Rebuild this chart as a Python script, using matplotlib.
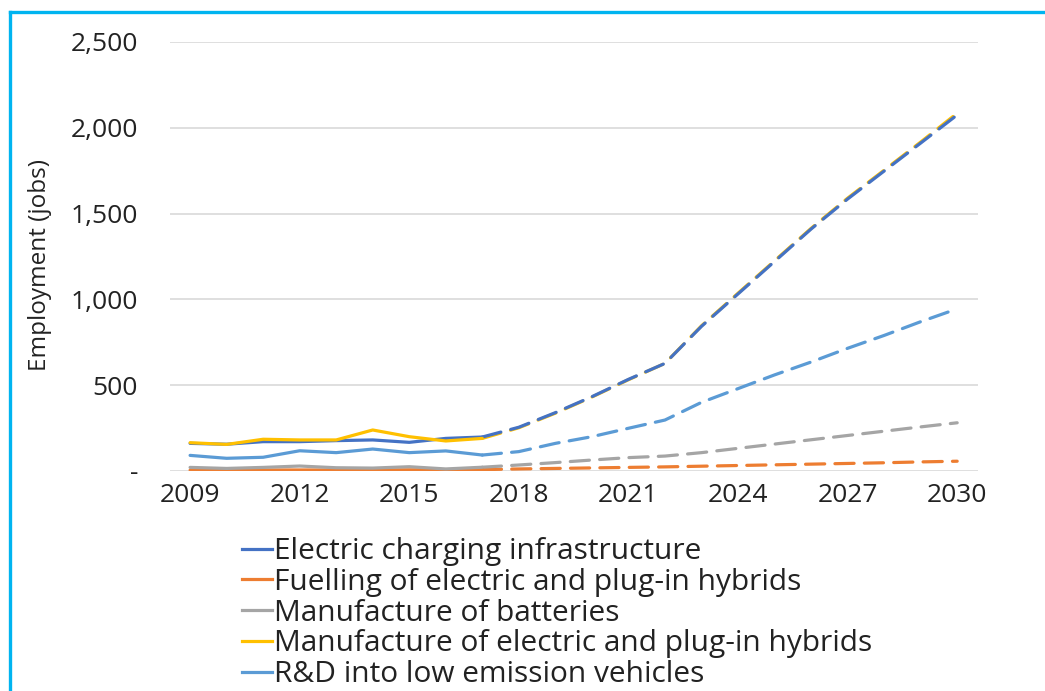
import matplotlib
matplotlib.use("Agg")
import matplotlib.pyplot as plt
from matplotlib.lines import Line2D
from matplotlib.ticker import FuncFormatter

plt.rcParams['font.family'] = ['Open Sans', 'DejaVu Sans']

# data
years_hist = [2009, 2010, 2011, 2012, 2013, 2014, 2015, 2016, 2017]
years_proj = [2017, 2018, 2019, 2020, 2021, 2022, 2023, 2024, 2025, 2026, 2027, 2028, 2029, 2030]

labels = [
    "Electric charging infrastructure",
    "Fuelling of electric and plug-in hybrids",
    "Manufacture of batteries",
    "Manufacture of electric and plug-in hybrids",
    "R&D into low emission vehicles",
]
colors = ["#4472C4", "#ED7D31", "#A5A5A5", "#FFC000", "#5B9BD5"]

charging_hist = [161, 156, 171, 171, 177, 181, 167, 190, 198]
fuelling_hist = [5, 5, 6, 6, 6, 6, 7, 7, 8]
batteries_hist = [21, 15, 21, 29, 19, 17, 25, 12, 22]
manuf_hist = [165, 155, 185, 181, 181, 239, 200, 175, 190]
rnd_hist = [91, 74, 80, 118, 107, 128, 107, 117, 93]

charging_proj = [198, 255, 340, 433, 534, 627, 843, 1032, 1221, 1410, 1585, 1748, 1911, 2075]
fuelling_proj = [8, 12, 15, 18, 21, 24, 28, 32, 36, 40, 44, 48, 53, 57]
batteries_proj = [22, 35, 49, 64, 78, 87, 107, 132, 157, 182, 207, 232, 257, 281]
manuf_proj = [190, 252, 337, 431, 532, 627, 846, 1036, 1225, 1414, 1590, 1753, 1917, 2085]
rnd_proj = [93, 113, 161, 200, 249, 297, 400, 480, 560, 635, 715, 790, 870, 945]

hist = [charging_hist, fuelling_hist, batteries_hist, manuf_hist, rnd_hist]
proj = [charging_proj, fuelling_proj, batteries_proj, manuf_proj, rnd_proj]

fig = plt.figure(figsize=(10.45, 6.91), dpi=100)
ax = fig.add_axes([170 / 1045, 1 - 471 / 691, 808 / 1045, 429 / 691])

text_color = "#222222"
for h, c in zip(hist, colors):
    ax.plot(years_hist, h, color=c, lw=2.3, solid_capstyle='round', solid_joinstyle='round', zorder=3)
# projections: yellow sits under the dark blue
for i in [1, 2, 3, 0, 4]:
    ax.plot(years_proj, proj[i], color=colors[i], lw=2.3, linestyle=(0, (6, 3.2)),
            dash_capstyle='round', zorder=2)

ax.set_xlim(2008.45, 2030.57)
ax.set_ylim(0, 2500)
ax.set_xticks([2009, 2012, 2015, 2018, 2021, 2024, 2027, 2030])
ax.set_yticks([0, 500, 1000, 1500, 2000, 2500])
ax.yaxis.set_major_formatter(FuncFormatter(lambda v, p: "-" if v == 0 else f"{v:,.0f}"))
ax.tick_params(axis='both', length=0, labelsize=19, colors=text_color)
ax.tick_params(axis='y', pad=23)
ax.tick_params(axis='x', pad=9)
ax.grid(axis='y', color="#D9D9D9", lw=1.2)
ax.set_axisbelow(True)
for s in ax.spines.values():
    s.set_visible(False)

ax.set_ylabel("Employment (jobs)", fontsize=17.5, color=text_color)
ax.yaxis.set_label_coords(-0.146, 0.48)

handles = [Line2D([0], [0], color=c, lw=2.3) for c in colors]
fig.legend(handles, labels, loc='upper left', bbox_to_anchor=(242 / 1045, 1 - 537 / 691),
           frameon=False, fontsize=21.5, handlelength=1.0, handletextpad=0.08,
           labelspacing=0.06, borderpad=0, borderaxespad=0, labelcolor=text_color)

# light blue frame (top and left edges)
frame = "#00B4F0"
fig.add_artist(Line2D([10 / 1045, 1], [1 - 12 / 691, 1 - 12 / 691], color=frame, lw=2.4,
                      transform=fig.transFigure))
fig.add_artist(Line2D([10 / 1045, 10 / 1045], [0, 1 - 12 / 691], color=frame, lw=2.4,
                      transform=fig.transFigure))

fig.savefig("out.png", dpi=100)
